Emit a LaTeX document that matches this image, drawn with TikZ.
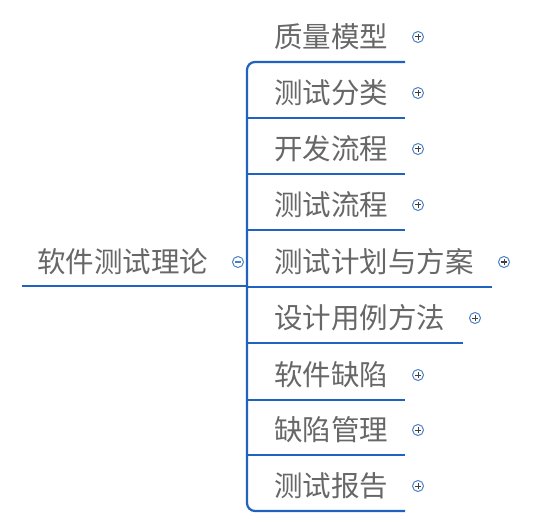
\documentclass[tikz,border=0pt]{standalone}
\usepackage{fontspec}
\newfontfamily\cjk{Noto Sans CJK SC}
\definecolor{linec}{HTML}{1F62C0}
\definecolor{textc}{HTML}{676767}
\definecolor{iconc}{HTML}{4A7FC8}
\begin{document}
\begin{tikzpicture}[x=1pt,y=-1pt,
  lbl/.style={anchor=west,inner sep=0pt,text=textc,font=\cjk\fontsize{28.5}{32}\selectfont},
  uline/.style={draw=linec,line width=2.2pt},
  plusicon/.style={circle,draw=iconc,line width=1pt,minimum size=11pt,inner sep=0pt,
    path picture={\draw[black!75,line width=1pt] ([xshift=-2.8pt]path picture bounding box.center) -- ([xshift=2.8pt]path picture bounding box.center)
      ([yshift=-2.8pt]path picture bounding box.center) -- ([yshift=2.8pt]path picture bounding box.center);}},
  minusicon/.style={circle,draw=iconc,line width=1pt,minimum size=11pt,inner sep=0pt,
    path picture={\draw[iconc,line width=1pt] ([xshift=-2.8pt]path picture bounding box.center) -- ([xshift=2.8pt]path picture bounding box.center);}}]
\useasboundingbox (0,0) rectangle (542,527);
% root
\node[lbl] (root) at (37,262) {软件测试理论};
\node[minusicon] (rooticon) at (238,262) {};
\coordinate (rs) at (22,286);
\coordinate (hub) at (247,286);
% children
\foreach \n/\y/\t/\e/\ix in {
  c1/37/质量模型/405/418,
  c2/93/测试分类/405/418,
  c3/149/开发流程/405/418,
  c4/205/测试流程/405/418,
  c5/262/测试计划与方案/492/504,
  c6/318/设计用例方法/463/475,
  c7/375/软件缺陷/405/418,
  c8/430/缺陷管理/405/418,
  c9/486/测试报告/405/418}{
  \node[lbl] (\n) at (274,\y) {\t};
  \node[plusicon] (\n i) at (\ix,\y) {};
  \coordinate (\n s) at (247,\y+25);
  \coordinate (\n e) at (\e,\y+25);
}
% connectors
\draw[uline] (rs) -- (hub);
\draw[uline,rounded corners=8pt] (c1e) -- (c1s) -- (c9s) -- (c9e);
\foreach \n in {c2,c3,c4,c5,c6,c7,c8}{
  \draw[uline] (\n s) -- (\n e);
}
\end{tikzpicture}
\end{document}
